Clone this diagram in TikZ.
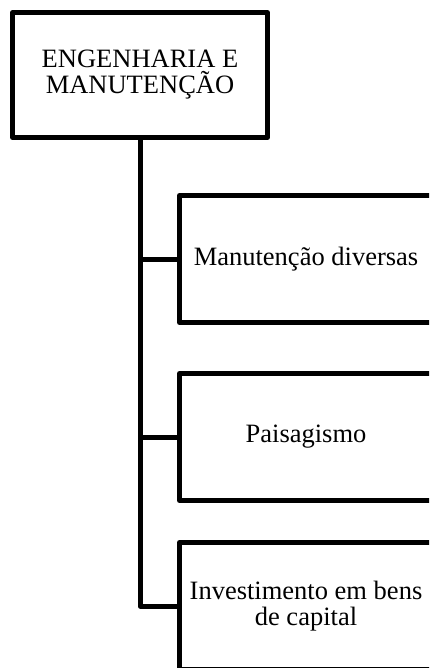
\documentclass[tikz,border=0pt]{standalone}
\usepackage{fontspec}
\setmainfont{Liberation Serif}
\usetikzlibrary{positioning}

\begin{document}
\begin{tikzpicture}[
  x=1pt,
  y=-1pt,
  box/.style={
    draw=black,
    line width=5pt,
    line join=round,
    fill=white,
    align=center,
    inner sep=0pt,
    font=\fontsize{26.5}{26}\selectfont
  },
  head/.style={box,minimum width=255pt,minimum height=125pt},
  item/.style={box,minimum width=253pt,minimum height=127pt},
  link/.style={draw=black,line width=5pt,line join=round}
]
\useasboundingbox (0,0) rectangle (429,668);
\clip (0,0) rectangle (429,668);

% Head of the department.
\node[head] (eng) at (140,75) {ENGENHARIA E\\MANUTENÇÃO};

% Sub-areas, cut by the page edge.
\node[item] (manut) at (306,259) {Manutenção diversas};
\node[item] (paisag) at (306,437) {Paisagismo};
\node[item] (invest) at (306,606) {Investimento em bens\\de capital};

% Trunk and branches.
\draw[link] (eng.south) |- (invest.west);
\draw[link] (eng.south |- manut.west) -- (manut.west);
\draw[link] (eng.south |- paisag.west) -- (paisag.west);
\end{tikzpicture}
\end{document}
